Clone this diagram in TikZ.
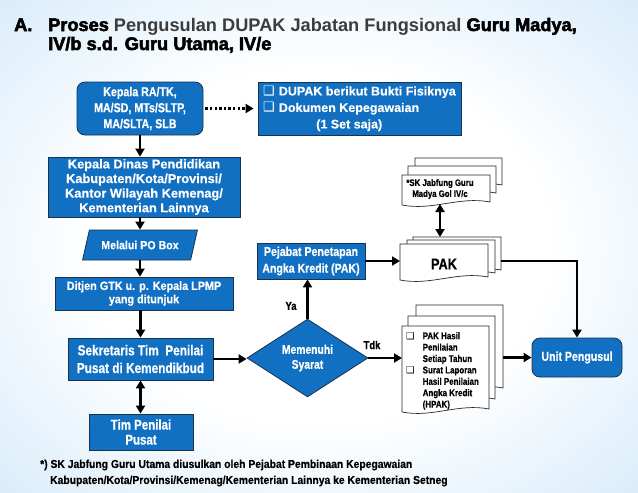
\documentclass[tikz,border=0pt]{standalone}
\usepackage{fontspec}
\setmainfont{Liberation Sans}
\newfontfamily\nA[FakeStretch=0.82,FakeBold=0.5]{Liberation Sans}
\newfontfamily\nB[FakeStretch=0.9,FakeBold=0.4]{Liberation Sans}
\newfontfamily\rA[FakeBold=0.3]{Liberation Sans}
\newfontfamily\rG{Liberation Sans}
\newfontfamily\hvy[FakeBold=3]{Liberation Sans}
\newfontfamily\dvs{DejaVu Sans}
\usetikzlibrary{shapes.geometric,arrows.meta,calc}
\definecolor{boxblue}{RGB}{17,112,194}
\definecolor{bordercol}{RGB}{25,50,80}
\definecolor{bgblue}{RGB}{140,198,240}
\definecolor{titlegray}{RGB}{60,60,60}
\pgfdeclareradialshading{bgshade}{\pgfpoint{0bp}{0bp}}{color(0bp)=(white); color(18bp)=(white); color(72bp)=(bgblue)}
\newcommand\docpg[1]{\filldraw[page] (#1.north west) -- (#1.north east) -- ($(#1.south east)+(0,-3)$) .. controls ($(#1.south west)!0.65!(#1.south east)+(0,-9)$) and ($(#1.south west)!0.35!(#1.south east)+(0,6)$) .. (#1.south west) -- cycle;}
\tikzset{
 bx/.style={draw=bordercol, line width=0.8pt, fill=boxblue, text=white, align=center, inner sep=0pt},
 arr/.style={line width=2.3pt, -{Triangle[length=8pt,width=9pt]}},
 darr/.style={line width=2.3pt, {Triangle[length=8pt,width=9pt]}-{Triangle[length=8pt,width=9pt]}},
 dotarr/.style={line width=2.3pt, dash pattern=on 2.3pt off 2.3pt, -{Triangle[length=8pt,width=9pt]}},
 page/.style={draw=black!85, line width=0.7pt, fill=white},
 pgnode/.style={inner sep=0pt, outer sep=0pt, minimum width=#1},
 lbl/.style={inner sep=0pt, font=\nA\bfseries\fontsize{11.5}{13}\selectfont}
}
\begin{document}
\begin{tikzpicture}[x=1pt,y=-1pt]
\useasboundingbox (0,0) rectangle (638,493);
\shade[shading=bgshade] (0,0) rectangle (638,493);

% title
\node[anchor=base west, inner sep=0pt, font=\hvy\bfseries\fontsize{18.2}{20}\selectfont] (tA) at (14,31) {A.};
\node[anchor=base west, inner sep=0pt, font=\hvy\bfseries\fontsize{18.2}{20}\selectfont] (t1) at (48,31) {Proses {\rG\bfseries\color{titlegray}Pengusulan DUPAK Jabatan Fungsional} Guru Madya,};
\node[anchor=base west, inner sep=0pt, font=\hvy\bfseries\fontsize{18.2}{20}\selectfont] (t2) at (48,50) {IV/b s.d. Guru Utama, IV/e};

% left column
\node[bx, rounded corners=8pt, minimum width=126, minimum height=53, font=\nA\bfseries\fontsize{13}{16}\selectfont] (box1) at (140,108.5) {Kepala RA/TK,\\MA/SD, MTs/SLTP,\\MA/SLTA, SLB};
\node[bx, minimum width=203, minimum height=53, align=left, font=\rA\bfseries\fontsize{12.5}{16.5}\selectfont] (box2) at (359.5,108.5) {{\dvs\fontsize{13}{16.5}\selectfont ❑}\hspace{4pt}DUPAK berikut Bukti Fisiknya\\{\dvs\fontsize{13}{16.5}\selectfont ❑}\hspace{4pt}Dokumen Kepegawaian\\\hspace*{53pt}(1 Set saja)};
\node[bx, minimum width=192, minimum height=60, font=\rA\bfseries\fontsize{12.8}{14.6}\selectfont] (box3) at (144,187) {Kepala Dinas Pendidikan\\Kabupaten/Kota/Provinsi/\\Kantor Wilayah Kemenag/\\Kementerian Lainnya};
\node[bx, trapezium, trapezium left angle=59, trapezium right angle=121, trapezium stretches=true, minimum width=116, minimum height=30, font=\nB\bfseries\fontsize{11.8}{14}\selectfont] (po) at (140,245) {Melalui PO Box};
\node[bx, minimum width=178, minimum height=33, font=\nB\bfseries\fontsize{12}{13.3}\selectfont] (box4) at (144,293.5) {Ditjen GTK u. p. Kepala LPMP\\yang ditunjuk};
\node[bx, minimum width=145, minimum height=42, font=\nA\bfseries\fontsize{14.4}{17.7}\selectfont] (box5) at (140.5,359) {Sekretaris Tim \ Penilai\\Pusat di Kemendikbud};
\node[bx, minimum width=104, minimum height=36, font=\nA\bfseries\fontsize{14}{15}\selectfont] (box6) at (141,432) {Tim Penilai\\Pusat};

% middle
\node[bx, diamond, minimum width=121, minimum height=76, font=\nA\bfseries\fontsize{12.6}{15}\selectfont] (dia) at (307.5,358) {Memenuhi\\Syarat};
\node[bx, minimum width=108, minimum height=36, font=\nA\bfseries\fontsize{12.9}{16.7}\selectfont] (pej) at (311,261) {Pejabat Penetapan\\Angka Kredit (PAK)};
\node[bx, rounded corners=8pt, minimum width=90, minimum height=39, font=\nA\bfseries\fontsize{12.9}{15}\selectfont] (unit) at (577,357.5) {Unit Pengusul};

% SK document
\node[pgnode=87, minimum height=30] (skB) at (458.5,173) {}; \docpg{skB}
\node[pgnode=88, minimum height=30] (skM) at (452,181) {}; \docpg{skM}
\node[pgnode=88, minimum height=30] (skF) at (446,190) {}; \docpg{skF}
\node[inner sep=0pt, align=center, font=\nA\bfseries\fontsize{9.5}{11}\selectfont] (sktext) at (440,189) {*SK Jabfung Guru\\Madya Gol IV/c};

% PAK document
\node[pgnode=88, minimum height=36] (pakB) at (457,255) {}; \docpg{pakB}
\node[pgnode=88, minimum height=36] (pakM) at (451,258) {}; \docpg{pakM}
\node[pgnode=88, minimum height=36] (pakF) at (444,262) {}; \docpg{pakF}
\node[inner sep=0pt, font=\nA\bfseries\fontsize{15.5}{17}\selectfont] (paktext) at (444,264) {PAK};

% Tdk document
\node[pgnode=87, minimum height=86] (tdkB) at (459.5,348) {}; \docpg{tdkB}
\node[pgnode=87, minimum height=86] (tdkM) at (451.5,359) {}; \docpg{tdkM}
\node[pgnode=87, minimum height=86] (tdkF) at (445.5,369) {}; \docpg{tdkF}
\node[anchor=north west, inner sep=0pt, align=left, font=\nA\bfseries\fontsize{9.7}{11.4}\selectfont] (tdktext) at (406,331) {%
\renewcommand\arraystretch{1}%
\begin{tabular}{@{}l@{\hspace{8pt}}l@{}}
{\dvs\fontsize{9.5}{11.4}\selectfont ❑} & PAK Hasil\\
 & Penilaian\\
 & Setiap Tahun\\
{\dvs\fontsize{9.5}{11.4}\selectfont ❑} & Surat Laporan\\
 & Hasil Penilaian\\
 & Angka Kredit\\
 & (HPAK)
\end{tabular}};

% labels
\node[lbl] (ya) at (291,306) {Ya};
\node[lbl] (tdk) at (372,345) {Tdk};

% footnote
\node[anchor=west, inner sep=0pt, align=left, font=\nB\bfseries\fontsize{11.5}{16}\selectfont] (fn) at (40,473) {*) SK Jabfung Guru Utama diusulkan oleh Pejabat Pembinaan Kepegawaian\\\hspace*{10pt}Kabupaten/Kota/Provinsi/Kemenag/Kementerian Lainnya ke Kementerian Setneg};

% connectors
\draw[dotarr, shorten <=2pt, shorten >=4pt] (box1.east) -- (box1.east -| box2.west);
\draw[arr] (box1.south) -- (box1.south |- box3.north);
\draw[arr] (box3.south -| box1.south) -- (po.north -| box1.south);
\draw[arr] (po.south -| box1.south) -- (box4.north -| box1.south);
\draw[arr] (box4.south -| box5.north) -- (box5.north);
\draw[darr] (box5.south) -- (box5.south |- box6.north);
\draw[arr] (box5.east) -- (box5.east -| dia.west);
\draw[arr] (dia.north) -- (dia.north |- pej.south);
\draw[arr] (pej.east) -- (pej.east -| pakF.west);
\draw[arr] (dia.east) -- (dia.east -| tdkF.west);
\draw[arr] (tdkB.east |- unit.west) -- (unit.west);
\draw[arr] (pakB.east |- pej.east) -| (unit.north);
\coordinate (skA) at ($(skF.south)+(-6,-1)$);
\draw[darr] (skA) -- (skA |- pakB.north);
\end{tikzpicture}
\end{document}
